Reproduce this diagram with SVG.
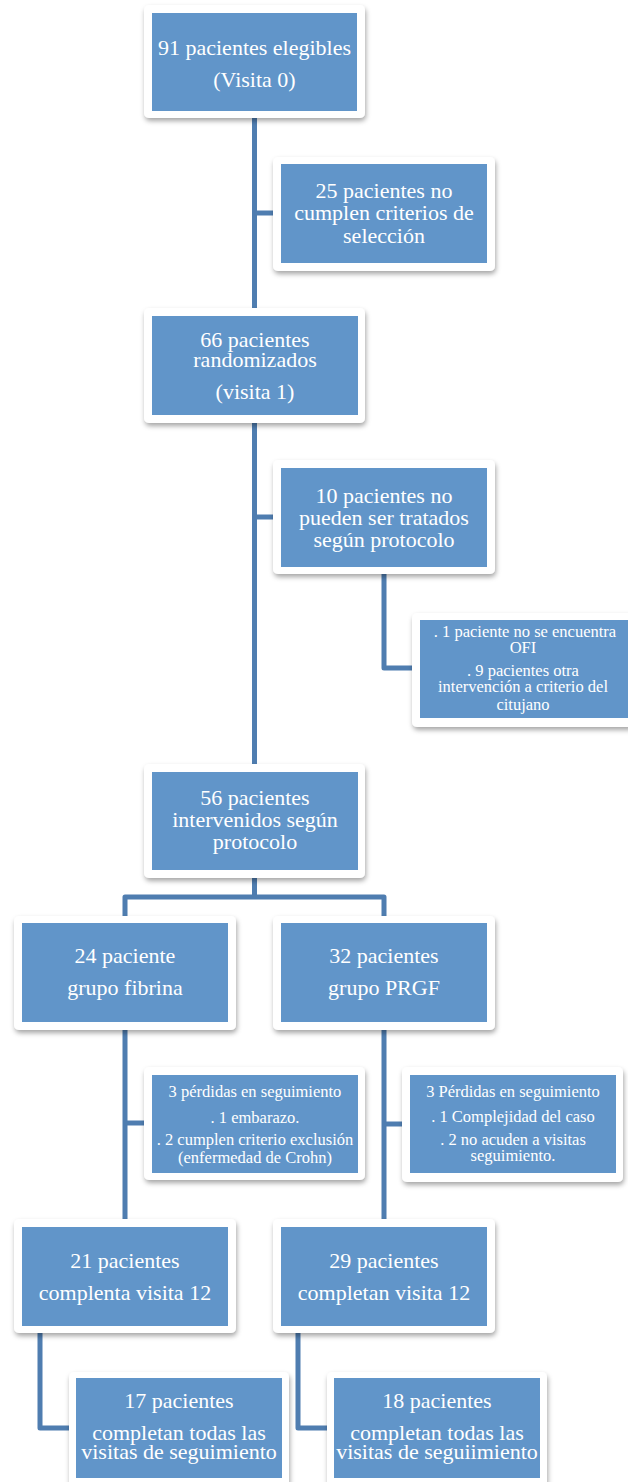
<svg xmlns="http://www.w3.org/2000/svg" width="628" height="1482" viewBox="0 0 628 1482">
<style>
.card{fill:#ffffff;filter:url(#sh)}
.box{fill:#6195c9}
.t{font-family:"Liberation Serif","Times New Roman",serif;fill:#ffffff;text-anchor:middle;font-size:22px}
.s{font-size:16.5px}
.c{fill:none;stroke:#4f7db0;stroke-width:5;stroke-linejoin:round}
</style>
<defs>
<filter id="sh" x="-10%" y="-10%" width="120%" height="130%">
<feDropShadow dx="1" dy="3" stdDeviation="2.5" flood-color="#000" flood-opacity="0.35"/>
</filter>
</defs>
<rect width="628" height="1482" fill="#ffffff"/>
<g id="connectors">
<path class="c" d="M254.5,118 V764"/>
<path class="c" d="M254.5,213 H273"/>
<path class="c" d="M254.5,517 H273"/>
<path class="c" d="M384,574 V668 H412"/>
<path class="c" d="M254.5,878 V897"/>
<path class="c" d="M125,916 V897 H384 V916"/>
<path class="c" d="M125,1030 V1219"/>
<path class="c" d="M125,1123 H144"/>
<path class="c" d="M384,1030 V1219"/>
<path class="c" d="M384,1124 H402"/>
<path class="c" d="M40,1333 V1428 H69"/>
<path class="c" d="M298,1333 V1428 H327"/>
</g>
<g id="n1">
<rect class="card" x="144" y="5" width="221" height="113" rx="5"/>
<rect class="box" x="152" y="13" width="205" height="98"/>
<text class="t" x="254.5" y="55">91 pacientes elegibles</text>
<text class="t" x="254.5" y="87">(Visita 0)</text>
</g>
<g id="n2">
<rect class="card" x="273" y="157" width="222" height="114" rx="5"/>
<rect class="box" x="281" y="164" width="206" height="99"/>
<text class="t" x="384" y="198">25 pacientes no</text>
<text class="t" x="384" y="220">cumplen criterios de</text>
<text class="t" x="384" y="243">selección</text>
</g>
<g id="n3">
<rect class="card" x="144" y="308" width="221" height="115" rx="5"/>
<rect class="box" x="152" y="316" width="206" height="99"/>
<text class="t" x="255" y="347">66 pacientes</text>
<text class="t" x="255" y="367">randomizados</text>
<text class="t" x="255" y="399">(visita 1)</text>
</g>
<g id="n4">
<rect class="card" x="273" y="460" width="222" height="114" rx="5"/>
<rect class="box" x="281" y="468" width="206" height="99"/>
<text class="t" x="384" y="503">10 pacientes no</text>
<text class="t" x="384" y="525">pueden ser tratados</text>
<text class="t" x="384" y="547">según protocolo</text>
</g>
<g id="n5">
<rect class="card" x="412" y="613" width="222" height="114" rx="5"/>
<rect class="box" x="420" y="620" width="210" height="98"/>
<text class="t s" x="525" y="637">.  1 paciente no se encuentra</text>
<text class="t s" x="523" y="653">OFI</text>
<text class="t s" x="523" y="676">.  9 pacientes otra</text>
<text class="t s" x="523" y="692">intervención a criterio del</text>
<text class="t s" x="523" y="710">citujano</text>
</g>
<g id="n6">
<rect class="card" x="144" y="764" width="221" height="114" rx="5"/>
<rect class="box" x="152" y="772" width="206" height="98"/>
<text class="t" x="255" y="805">56 pacientes</text>
<text class="t" x="255" y="827">intervenidos según</text>
<text class="t" x="255" y="849">protocolo</text>
</g>
<g id="n7">
<rect class="card" x="14" y="916" width="222" height="114" rx="5"/>
<rect class="box" x="22" y="923" width="206" height="99"/>
<text class="t" x="125" y="963">24 paciente</text>
<text class="t" x="125" y="995">grupo fibrina</text>
</g>
<g id="n8">
<rect class="card" x="273" y="916" width="222" height="114" rx="5"/>
<rect class="box" x="281" y="923" width="206" height="99"/>
<text class="t" x="384" y="963">32 pacientes</text>
<text class="t" x="384" y="995">grupo PRGF</text>
</g>
<g id="n9">
<rect class="card" x="144" y="1067" width="221" height="113" rx="5"/>
<rect class="box" x="152" y="1075" width="206" height="98"/>
<text class="t s" x="255" y="1097">3 pérdidas en seguimiento</text>
<text class="t s" x="255" y="1123">. 1 embarazo.</text>
<text class="t s" x="255" y="1145">. 2 cumplen criterio exclusión</text>
<text class="t s" x="255" y="1163">(enfermedad de Crohn)</text>
</g>
<g id="n10">
<rect class="card" x="402" y="1067" width="221" height="115" rx="5"/>
<rect class="box" x="410" y="1075" width="206" height="98"/>
<text class="t s" x="513" y="1097">3 Pérdidas en seguimiento</text>
<text class="t s" x="513" y="1122">. 1 Complejidad del caso</text>
<text class="t s" x="513" y="1145">. 2 no acuden a visitas</text>
<text class="t s" x="513" y="1161">seguimiento.</text>
</g>
<g id="n11">
<rect class="card" x="14" y="1219" width="222" height="114" rx="5"/>
<rect class="box" x="22" y="1227" width="206" height="99"/>
<text class="t" x="125" y="1268">21 pacientes</text>
<text class="t" x="125" y="1300">complenta visita 12</text>
</g>
<g id="n12">
<rect class="card" x="273" y="1219" width="222" height="114" rx="5"/>
<rect class="box" x="281" y="1227" width="206" height="99"/>
<text class="t" x="384" y="1268">29 pacientes</text>
<text class="t" x="384" y="1300">completan visita 12</text>
</g>
<g id="n13">
<rect class="card" x="69" y="1372" width="220" height="115" rx="5"/>
<rect class="box" x="76" y="1378" width="206" height="100"/>
<text class="t" x="179" y="1408">17 pacientes</text>
<text class="t" x="179" y="1440">completan todas las</text>
<text class="t" x="179" y="1459">visitas de seguimiento</text>
</g>
<g id="n14">
<rect class="card" x="327" y="1372" width="220" height="115" rx="5"/>
<rect class="box" x="334" y="1378" width="206" height="100"/>
<text class="t" x="437" y="1408">18 pacientes</text>
<text class="t" x="437" y="1440">completan todas las</text>
<text class="t" x="437" y="1459">visitas de seguiimiento</text>
</g>
</svg>
